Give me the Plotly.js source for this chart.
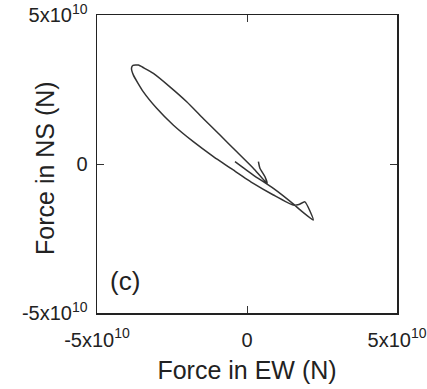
<!DOCTYPE html>
<html>
<head>
<meta charset="utf-8">
<script src="https://cdn.plot.ly/plotly-3.0.1.min.js"></script>
<style>
  html, body { margin: 0; padding: 0; background: #fff; }
  #chart { width: 427px; height: 389px; }
</style>
</head>
<body>
<div id="chart"></div>
<script>
// Force hodograph, values in units of 1e10 N
const forceEW = [0.38, 0.43, 0.60, 0.67, 0.21, -0.34, -0.90, -1.46, -2.01, -2.57, -3.12, -3.43, -3.62, -3.80, -3.85,
  -3.79, -3.46, -3.01, -2.46, -1.79, -1.12, -0.46, 0.21, 0.88, 1.54, 1.73, 1.93, 2.21,
  1.77, 1.54, 0.88, 0.21, -0.40];
const forceNS = [0.08, -0.14, -0.43, -0.65, -0.14, 0.41, 0.97, 1.53, 2.09, 2.59, 3.04, 3.22, 3.32, 3.31, 3.22,
  2.99, 2.43, 1.87, 1.31, 0.75, 0.25, -0.20, -0.65, -1.04, -1.38, -1.36, -1.27, -1.88,
  -1.54, -1.34, -0.82, -0.37, 0.08];
const unit = 1e10;
const tickVals = [-5e10, 0, 5e10];
const tickText = ['-5x10<sup>10</sup>', '0', '5x10<sup>10</sup>'];
const xTitle = 'Force in EW (N)';
const yTitle = 'Force in NS (N)';
const panelLabel = '(c)';

const font = 'Liberation Sans, Arial, Helvetica, sans-serif';

const trace = {
  x: forceEW.map(v => v * unit),
  y: forceNS.map(v => v * unit),
  mode: 'lines',
  line: { color: '#333333', width: 1.5, shape: 'spline', smoothing: 0.5 },
  hoverinfo: 'skip',
  showlegend: false
};

const axisCommon = {
  range: [-5e10, 5e10],
  tickvals: tickVals,
  ticktext: tickText,
  ticks: 'inside',
  ticklen: 7,
  tickwidth: 1,
  tickcolor: '#333',
  showline: true,
  linecolor: '#222',
  linewidth: 1.5,
  mirror: 'ticks',
  showgrid: false,
  zeroline: false,
  tickfont: { family: font, size: 20, color: '#222' },
  fixedrange: true
};

const layout = {
  width: 427,
  height: 389,
  margin: { l: 97, r: 30, t: 15, b: 76 },
  paper_bgcolor: '#fff',
  plot_bgcolor: '#fff',
  font: { family: font, color: '#222' },
  xaxis: Object.assign({}, axisCommon, {
    title: { text: xTitle, font: { family: font, size: 25, color: '#222' }, standoff: 12 },
    ticklabelstandoff: 8
  }),
  yaxis: Object.assign({}, axisCommon, {
    ticklabelstandoff: 4
  }),
  annotations: [{
    text: panelLabel,
    xref: 'paper', yref: 'paper',
    x: 0.035, y: 0.05,
    xanchor: 'left', yanchor: 'bottom',
    showarrow: false,
    font: { family: font, size: 26, color: '#222' }
  }, {
    text: yTitle,
    xref: 'paper', yref: 'paper',
    x: -0.173, y: 0.487,
    xanchor: 'center', yanchor: 'middle',
    textangle: -90,
    showarrow: false,
    font: { family: font, size: 25, color: '#222' }
  }]
};

Plotly.newPlot('chart', [trace], layout, { displayModeBar: false, staticPlot: true });
</script>
</body>
</html>
